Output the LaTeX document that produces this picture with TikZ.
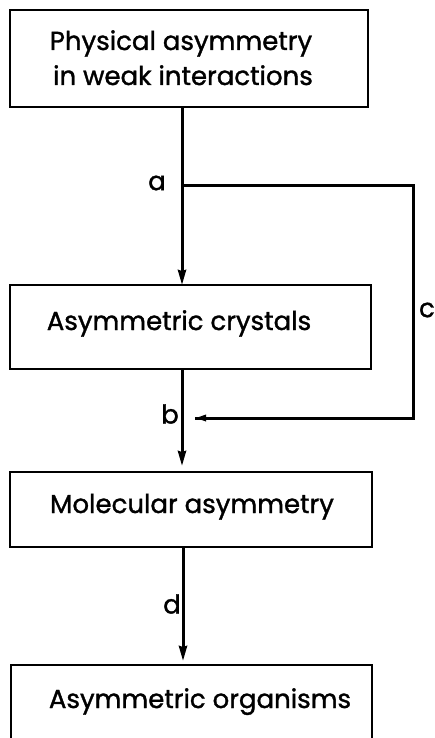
\documentclass[tikz,border=0pt]{standalone}
\usepackage{fontspec}
\setmainfont{Poppins}[FakeBold=1.3]
\usetikzlibrary{arrows.meta}
\begin{document}
\begin{tikzpicture}[x=1pt,y=-1pt,
  boxed/.style={draw,line width=1.8pt,inner sep=0pt},
  txt/.style={font=\fontsize{26}{30}\selectfont,inner sep=0pt},
  lbl/.style={font=\fontsize{26}{30}\selectfont,inner sep=0pt},
  conn/.style={line width=3pt},
  tip/.style={-{Stealth[length=15pt,width=8pt,inset=1pt]}}]
\useasboundingbox (0,0) rectangle (434,738);
% boxes
\node[boxed,minimum width=358pt,minimum height=97pt] (b1) at (189,58.5) {};
\node[boxed,minimum width=361pt,minimum height=84pt] (b2) at (190.5,327) {};
\node[boxed,minimum width=362pt,minimum height=75pt] (b3) at (191,509.5) {};
\node[boxed,minimum width=361pt,minimum height=77pt,anchor=north] (b4) at (191.5,664) {};
% texts
\node[txt,anchor=base] (t1a) at (181,50) {Physical asymmetry};
\node[txt,anchor=base] (t1b) at (183,85) {in weak interactions};
\node[txt,anchor=base] (t2) at (179,330) {Asymmetric crystals};
\node[txt,anchor=base] (t3) at (192,513) {Molecular asymmetry};
\node[txt,anchor=base] (t4) at (200,708) {Asymmetric organisms};
% coordinates
\coordinate (a1) at (182,107);
\coordinate (a2) at (182,185);
\coordinate (cR1) at (413,185);
\coordinate (cR2) at (413,418);
\coordinate (cE) at (195,418);
\coordinate (b2bot) at (182,369);
\coordinate (b3top) at (182,466);
\coordinate (b3bot) at (183,547);
\coordinate (b4top) at (183,661);
% connectors
\draw[conn,tip] (a1) -- (182,285);
\draw[conn,line join=miter] (a2) -- (cR1) -- (cR2) -- (cE);
\draw[conn,-{Stealth[length=11pt,width=6pt,inset=0pt]}] (cR2) -- (cE);
\draw[conn,tip] (b2bot) -- (b3top);
\draw[conn,tip] (b3bot) -- (b4top);
% labels
\node[lbl] (la) at (157,183) {a};
\node[lbl] (lb) at (170,414) {b};
\node[lbl] (lc) at (427,310) {c};
\node[lbl] (ld) at (172,604) {d};
\end{tikzpicture}
\end{document}
